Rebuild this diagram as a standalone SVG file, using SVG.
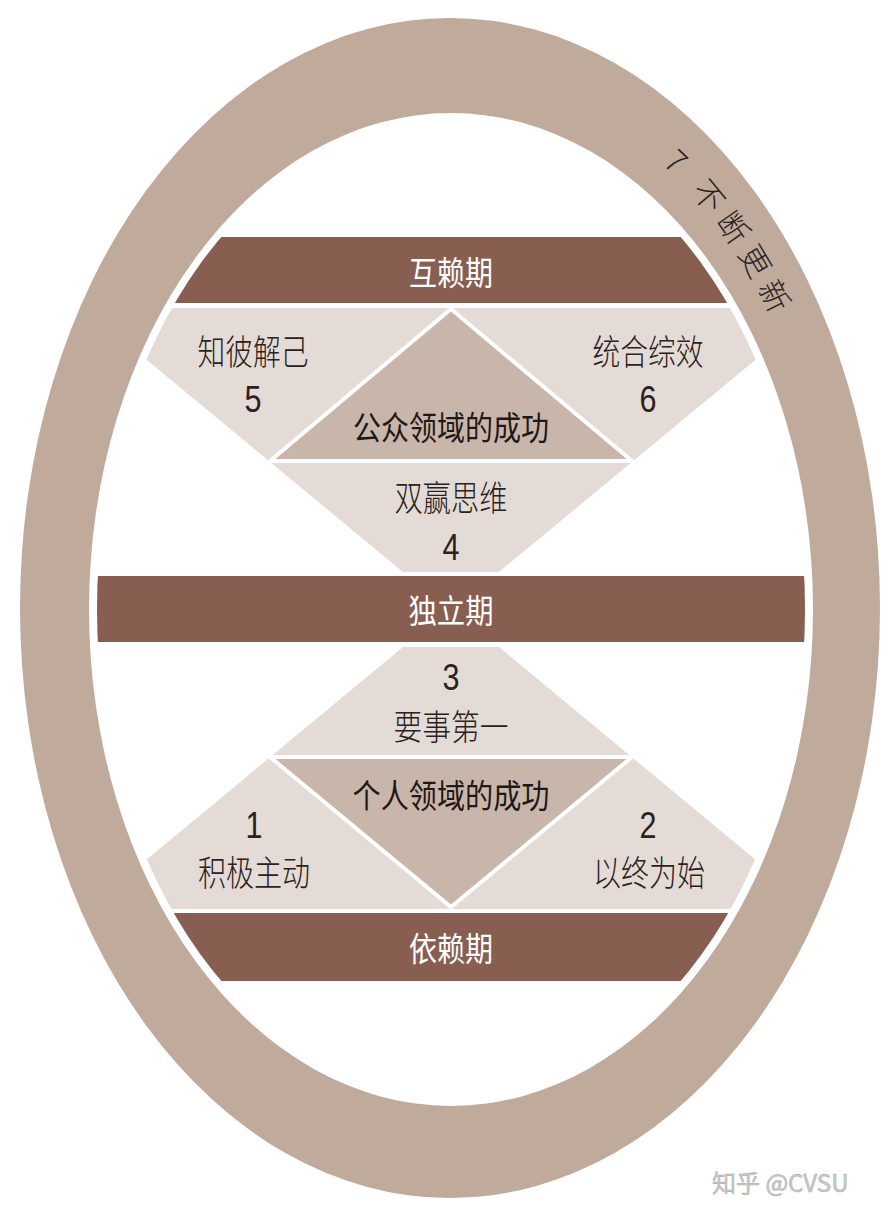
<svg xmlns="http://www.w3.org/2000/svg" width="890" height="1220" viewBox="0 0 890 1220">
  <defs>
    <clipPath id="innerClip">
      <ellipse cx="451" cy="609" rx="354" ry="489"/>
    </clipPath>
    <path id="ringTextPath" d="M 662 164 A 385 532 0 0 1 835 608" fill="none"/>
    <style>
      .ring { fill: #C0AA9B; fill-rule: evenodd; }
      .band { fill: #875E50; }
      .light { fill: #E4DBD6; }
      .center { fill: #C8B6AB; stroke: #FFFFFF; stroke-width: 4; stroke-linejoin: round; }
      .bandText { font-family: "Noto Sans CJK SC", "Noto Sans", sans-serif; font-size: 33px; fill: #FFFFFF; text-anchor: middle; }
      .label { font-family: "Noto Sans CJK SC", "Noto Sans", sans-serif; font-size: 35px; font-weight: 300; fill: #2A2220; text-anchor: middle; }
      .centerText { font-family: "Noto Sans CJK SC", "Noto Sans", sans-serif; font-size: 33px; font-weight: 400; fill: #1E1816; text-anchor: middle; }
      .num { font-family: "Liberation Sans Narrow", "Liberation Sans", Arial, sans-serif; font-size: 36px; fill: #2A2220; text-anchor: middle; }
      .ringText { font-family: "Noto Sans CJK SC", "Noto Sans", sans-serif; font-size: 31px; font-weight: 300; fill: #2A2220; letter-spacing: 8px; }
      .mark { font-family: "Noto Sans CJK SC", "Noto Sans", sans-serif; font-size: 24px; fill: #C9C9C9; stroke: #ABABAB; stroke-width: 0.5; }
    </style>
  </defs>

  <rect x="0" y="0" width="890" height="1220" fill="#FFFFFF"/>

  <g id="ring-renewal">
    <path class="ring" d="M 20 608 A 430 590 0 1 0 880 608 A 430 590 0 1 0 20 608 Z M 89 609.5 A 362 496.5 0 1 0 813 609.5 A 362 496.5 0 1 0 89 609.5 Z"/>
    <text class="ringText"><textPath href="#ringTextPath">7 不断更新</textPath></text>
  </g>

  <g clip-path="url(#innerClip)">
    <g id="public-victory">
      <polygon class="light" points="84,308 818,308 499,572 403,572"/>
      <polygon class="center" points="451,309 270,461 632,461"/>
    </g>
    <g id="private-victory">
      <polygon class="light" points="403,647 499,647 815,909 87,909"/>
      <polygon class="center" points="270,757 632,757 451,907"/>
    </g>
    <g id="band-interdependence">
      <rect class="band" x="0" y="237" width="890" height="66"/>
    </g>
    <g id="band-independence">
      <rect class="band" x="0" y="576" width="890" height="66"/>
    </g>
    <g id="band-dependence">
      <rect class="band" x="0" y="913" width="890" height="68"/>
    </g>
  </g>

  <g id="connectors"></g>

  <g id="label-interdependence">
    <text class="bandText" x="451" y="285" textLength="84" lengthAdjust="spacingAndGlyphs">互赖期</text>
  </g>
  <g id="label-independence">
    <text class="bandText" x="451" y="623" textLength="85" lengthAdjust="spacingAndGlyphs">独立期</text>
  </g>
  <g id="label-dependence">
    <text class="bandText" x="451" y="961" textLength="84" lengthAdjust="spacingAndGlyphs">依赖期</text>
  </g>

  <g id="node-5">
    <text class="label" x="253" y="365" textLength="111" lengthAdjust="spacingAndGlyphs">知彼解己</text>
    <text class="num" x="253" y="412" textLength="17" lengthAdjust="spacingAndGlyphs">5</text>
  </g>
  <g id="node-6">
    <text class="label" x="648" y="365" textLength="111" lengthAdjust="spacingAndGlyphs">统合综效</text>
    <text class="num" x="648" y="412" textLength="17" lengthAdjust="spacingAndGlyphs">6</text>
  </g>
  <g id="node-public">
    <text class="centerText" x="451" y="440" textLength="196" lengthAdjust="spacingAndGlyphs">公众领域的成功</text>
  </g>
  <g id="node-4">
    <text class="label" x="451" y="511" textLength="113" lengthAdjust="spacingAndGlyphs">双赢思维</text>
    <text class="num" x="451" y="560" textLength="17" lengthAdjust="spacingAndGlyphs">4</text>
  </g>
  <g id="node-3">
    <text class="num" x="451" y="690" textLength="17" lengthAdjust="spacingAndGlyphs">3</text>
    <text class="label" x="451" y="740" textLength="115" lengthAdjust="spacingAndGlyphs">要事第一</text>
  </g>
  <g id="node-private">
    <text class="centerText" x="451" y="808" textLength="197" lengthAdjust="spacingAndGlyphs">个人领域的成功</text>
  </g>
  <g id="node-1">
    <text class="num" x="254" y="838" textLength="17" lengthAdjust="spacingAndGlyphs">1</text>
    <text class="label" x="254" y="886" textLength="112" lengthAdjust="spacingAndGlyphs">积极主动</text>
  </g>
  <g id="node-2">
    <text class="num" x="648" y="838" textLength="17" lengthAdjust="spacingAndGlyphs">2</text>
    <text class="label" x="649" y="886" textLength="112" lengthAdjust="spacingAndGlyphs">以终为始</text>
  </g>

  <g id="watermark">
    <text class="mark" x="712" y="1192">知乎 @CVSU</text>
  </g>
</svg>
